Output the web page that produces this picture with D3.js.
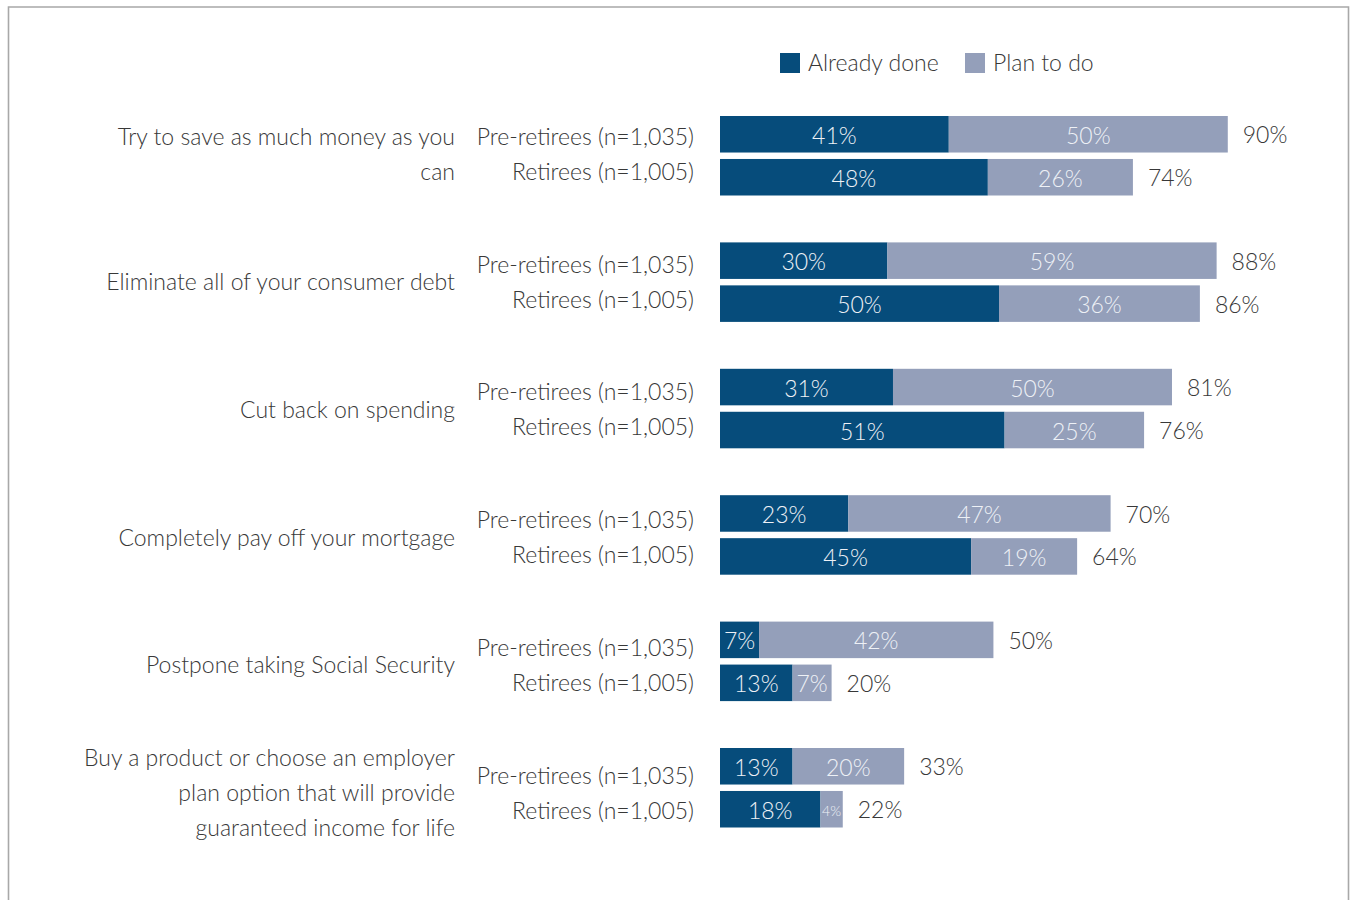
<!DOCTYPE html>
<html>
<head>
<meta charset="utf-8">
<script src="https://cdn.jsdelivr.net/npm/d3@7"></script>
<style>
  html, body { margin: 0; padding: 0; background: #fff; }
  svg { display: block; font-family: Lato, "Open Sans", sans-serif; font-weight: 300; }
</style>
</head>
<body>
<svg id="chart" width="1351" height="900"></svg>
<script>
// Survey categories (one entry per line of the wrapped label)
const categories = [
  ["Try to save as much money as you", "can"],
  ["Eliminate all of your consumer debt"],
  ["Cut back on spending"],
  ["Completely pay off your mortgage"],
  ["Postpone taking Social Security"],
  ["Buy a product or choose an employer", "plan option that will provide", "guaranteed income for life"]
];
const groups = ["Pre-retirees (n=1,035)", "Retirees (n=1,005)"];
const seriesNames = ["Already done", "Plan to do"];

// Percent values per category
const alreadyPre = [41, 30, 31, 23, 7, 13];
const planPre    = [50, 59, 50, 47, 42, 20];
const totalPre   = [90, 88, 81, 70, 50, 33];
const alreadyRet = [48, 50, 51, 45, 13, 18];
const planRet    = [26, 36, 25, 19, 7, 4];
const totalRet   = [74, 86, 76, 64, 20, 22];

const colors = { "Already done": "#064c7b", "Plan to do": "#949fba" };
const textColor = "#383838";
const fs = 23;

const rows = [];
categories.forEach((c, i) => {
  rows.push({ cat: i, gi: 0, group: groups[0], already: alreadyPre[i], plan: planPre[i], total: totalPre[i] });
  rows.push({ cat: i, gi: 1, group: groups[1], already: alreadyRet[i], plan: planRet[i], total: totalRet[i] });
});

const svg = d3.select("#chart");

// Frame
svg.append("path")
  .attr("d", "M8.5,930 V7 H1348.5 V930")
  .attr("fill", "none")
  .attr("stroke", "#a8a8a8")
  .attr("stroke-width", 1.6);

const x = d3.scaleLinear().domain([0, 100]).range([720, 1278]);
const yCat = d3.scaleBand().domain(d3.range(categories.length)).range([116, 116 + 6 * 126.4]).paddingInner(0);
const yGroup = d3.scaleBand().domain(groups).range([0, 79.5]).paddingInner(0.15);
// Text rows on the left run on a slightly looser pitch than the bars
const yText = d3.scalePoint().domain(d3.range(categories.length)).range([154.5, 793]);
const lineH = 35;

// Legend
const legend = svg.append("g").attr("class", "legend");
const legendX = [780, 965];
seriesNames.forEach((s, i) => {
  legend.append("rect")
    .attr("x", legendX[i]).attr("y", 53).attr("width", 20).attr("height", 20)
    .attr("fill", colors[s]);
  legend.append("text")
    .attr("x", legendX[i] + 28).attr("y", 63).attr("dy", "0.35em")
    .attr("font-size", fs).attr("fill", textColor)
    .text(s);
});

// Category labels
const catG = svg.append("g");
categories.forEach((lines, i) => {
  const cy = yText(i);
  lines.forEach((line, j) => {
    catG.append("text")
      .attr("x", 455)
      .attr("y", cy + (j - (lines.length - 1) / 2) * lineH)
      .attr("dy", "0.35em")
      .attr("text-anchor", "end")
      .attr("font-size", fs)
      .attr("fill", textColor)
      .text(line);
  });
});

const bh = yGroup.bandwidth();

// Group labels, spaced like the text lines around the category centre
svg.append("g").selectAll("text").data(rows).join("text")
  .attr("x", 694)
  .attr("y", d => yText(d.cat) + (d.gi - 0.5) * lineH)
  .attr("dy", "0.35em")
  .attr("text-anchor", "end").attr("font-size", fs).attr("fill", textColor)
  .text(d => d.group);

const rowG = svg.append("g").selectAll("g").data(rows).join("g")
  .attr("transform", d => `translate(0,${yCat(d.cat) + yGroup(d.group)})`);

// Stacked segments
const segs = d => [
  { key: "Already done", x0: 0, x1: d.already, v: d.already },
  { key: "Plan to do", x0: d.already, x1: d.already + d.plan, v: d.plan }
];
rowG.selectAll("rect").data(segs).join("rect")
  .attr("x", s => x(s.x0))
  .attr("width", s => x(s.x1) - x(s.x0))
  .attr("y", 0).attr("height", bh)
  .attr("fill", s => colors[s.key]);

rowG.selectAll("text.seg").data(segs).join("text")
  .attr("class", "seg")
  .attr("x", s => (x(s.x0) + x(s.x1)) / 2)
  .attr("y", bh / 2 + 1.5).attr("dy", "0.35em")
  .attr("text-anchor", "middle")
  .attr("font-size", s => (x(s.x1) - x(s.x0)) < 30 ? 14 : fs)
  .attr("fill", "#eef1f6")
  .text(s => s.v + "%");

// Totals
rowG.append("text")
  .attr("x", d => x(d.already + d.plan) + 15)
  .attr("y", bh / 2 + 1).attr("dy", "0.35em")
  .attr("font-size", fs).attr("fill", textColor)
  .text(d => d.total + "%");
</script>
</body>
</html>
